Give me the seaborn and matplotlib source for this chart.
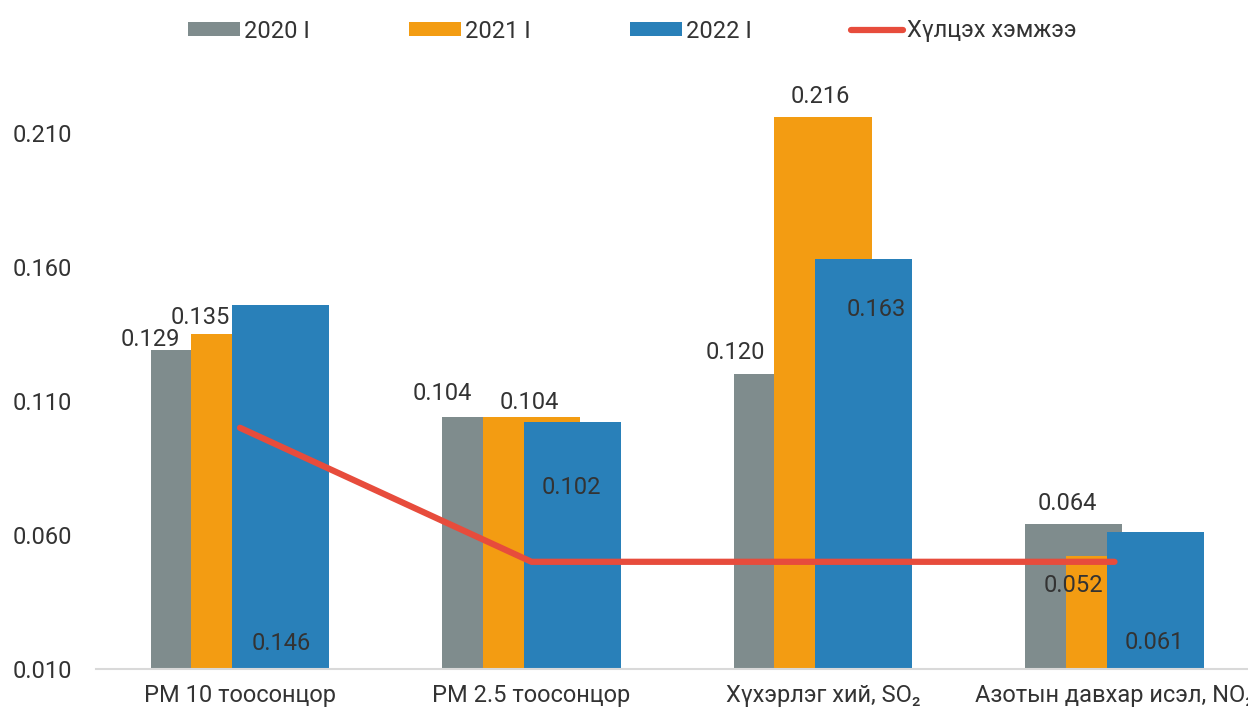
import numpy as np
import matplotlib
matplotlib.use("Agg")
import matplotlib.pyplot as plt
import seaborn as sns

# Data
categories = ["PM 10 тоосонцор", "PM 2.5 тоосонцор", "Хүхэрлэг хий, SO₂", "Азотын давхар исэл, NO₂"]
series_names = ["2020 I", "2021 I", "2022 I"]
values_2020 = [0.129, 0.104, 0.120, 0.064]
values_2021 = [0.135, 0.104, 0.216, 0.052]
values_2022 = [0.146, 0.102, 0.163, 0.061]
limit_name = "Хүлцэх хэмжээ"
limit_values = [0.100, 0.050, 0.050, 0.050]
y_ticks = [0.010, 0.060, 0.110, 0.160, 0.210]

# Styling
colors = ["#7F8C8D", "#F39C12", "#2980B9"]
line_color = "#E74C3C"
text_color = "#333333"
bar_offsets = [-0.14, 0.0, 0.14]
bar_width = 0.333
FS = 17
# label offsets in pixels from the bar top (Excel hand-placed labels)
label_offsets = [
    [(-49, 11), (-48, 24), (-47, 22), (-6, 21)],
    [(-40, 16), (-2, 15), (-3, 20), (-41, -29)],
    [(0, -339), (-1, -65), (12, -51), (-1, -110)],
]

sns.set_style("white")
plt.rcParams['font.family'] = ['Roboto', 'DejaVu Sans']

fig = plt.figure(figsize=(12.48, 7.11), dpi=100)
ax = fig.add_axes([96 / 1248, 42 / 711, 1 - 96 / 1248, (669 - 66) / 711])

x = np.arange(len(categories))
all_series = [values_2020, values_2021, values_2022]
for name, vals, col, off in zip(series_names, all_series, colors, bar_offsets):
    sns.barplot(x=x + off, y=vals, native_scale=True, width=bar_width, color=col,
                label=name, errorbar=None, ax=ax, linewidth=0, saturation=1)

sns.lineplot(x=x, y=limit_values, color=line_color, linewidth=4.5, label=limit_name,
             ax=ax, solid_capstyle='round')

for vals, off, series_offs in zip(all_series, bar_offsets, label_offsets):
    for i, v in enumerate(vals):
        ax.annotate(f"{v:.3f}", (i + off, v), xytext=series_offs[i], textcoords='offset pixels',
                    ha='center', va='center', fontsize=FS, color=text_color)

ax.set_xlim(-0.494, 3.458)
ax.set_ylim(0.010, 0.235)
ax.set_yticks(y_ticks)
ax.set_yticklabels([f"{t:.3f}" for t in y_ticks])
ax.set_xticks(x)
ax.set_xticklabels(categories)
ax.tick_params(axis='y', length=0, pad=17, labelsize=FS, labelcolor=text_color)
ax.tick_params(axis='x', length=0, pad=11, labelsize=FS, labelcolor=text_color)
for s in ["left", "right", "top"]:
    ax.spines[s].set_visible(False)
ax.spines["bottom"].set_color("#D9D9D9")
ax.spines["bottom"].set_linewidth(1.5)
ax.set_xlabel("")
ax.set_ylabel("")

handles, labels = ax.get_legend_handles_labels()
ax.get_legend().remove()
# bars first, then the limit line
order = [labels.index(n) for n in series_names + [limit_name]]
fig.legend([handles[i] for i in order], [labels[i] for i in order], loc='center',
           bbox_to_anchor=(632 / 1248, 1 - 31 / 711),
           ncol=4, frameon=False, fontsize=FS, handlelength=2.2, handleheight=0.55,
           handletextpad=0.17, columnspacing=4.2, labelcolor=text_color)

fig.savefig("out.png", dpi=100)
